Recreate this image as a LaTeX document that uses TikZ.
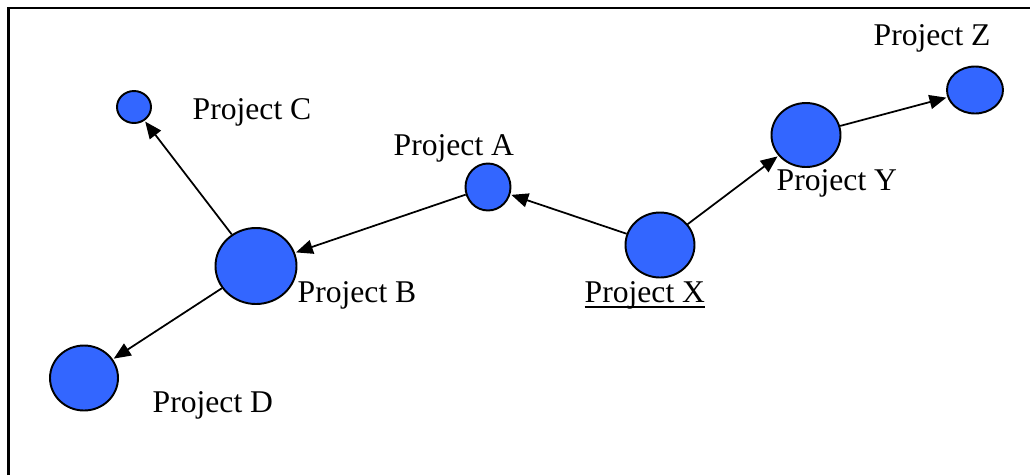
\documentclass[tikz,border=0pt]{standalone}
\usepackage{fontspec}
\setmainfont{Liberation Serif}
\usepackage{tikz}
\usetikzlibrary{arrows.meta,shapes.geometric,positioning}
\usepackage{xcolor}
\definecolor{projcol}{RGB}{51,102,255}

\begin{document}
\begin{tikzpicture}[every node/.style={font=\fontsize{9}{11}\selectfont},
    proj/.style={ellipse,draw,fill=projcol,line width=0.55pt,inner sep=0pt},
    lbl/.style={anchor=base west,inner sep=0pt},
    link/.style={-{Triangle[length=4.8pt,width=4pt]},line width=0.5pt,shorten >=0.3pt}]
  \useasboundingbox (0,0) rectangle (10.3,4.75);
  \draw[line width=0.57pt](0.085,0) |- (10.3,4.675);
  % projects
  \node[proj,minimum width=0.34cm,minimum height=0.32cm] (projC) at (1.34,3.68){};
  \node[proj,minimum width=0.45cm,minimum height=0.47cm] (projA) at (4.88,2.88){};
  \node[proj,minimum width=0.81cm,minimum height=0.76cm] (projB) at (2.56,2.09){};
  \node[proj,minimum width=0.68cm,minimum height=0.65cm] (projD) at (0.84,0.97){};
  \node[proj,minimum width=0.69cm,minimum height=0.65cm] (projX) at (6.60,2.30){};
  \node[proj,minimum width=0.69cm,minimum height=0.64cm] (projY) at (8.06,3.40){};
  \node[proj,minimum width=0.56cm,minimum height=0.47cm] (projZ) at (9.75,3.85){};
  % names
  \node[lbl] (lblC) at (1.92,3.56){Project C};
  \node[lbl] (lblA) at (3.93,3.20){Project A};
  \node[lbl] (lblB) at (2.97,1.73){Project B};
  \node[lbl] (lblD) at (1.52,0.63){Project D};
  \node[lbl] (lblX) at (5.84,1.73){\underline{\smash{Project X}}};
  \node[lbl] (lblY) at (7.76,2.85){Project Y};
  \node[lbl] (lblZ) at (8.73,4.30){Project Z};
  % links
  \draw[link](projX)--(projA);
  \draw[link](projA)--(projB);
  \draw[link](projB)--(projC);
  \draw[link](projB)--(projD);
  \draw[link](projX)--(projY);
  \draw[link](projY)--(projZ);
\end{tikzpicture}
\end{document}
